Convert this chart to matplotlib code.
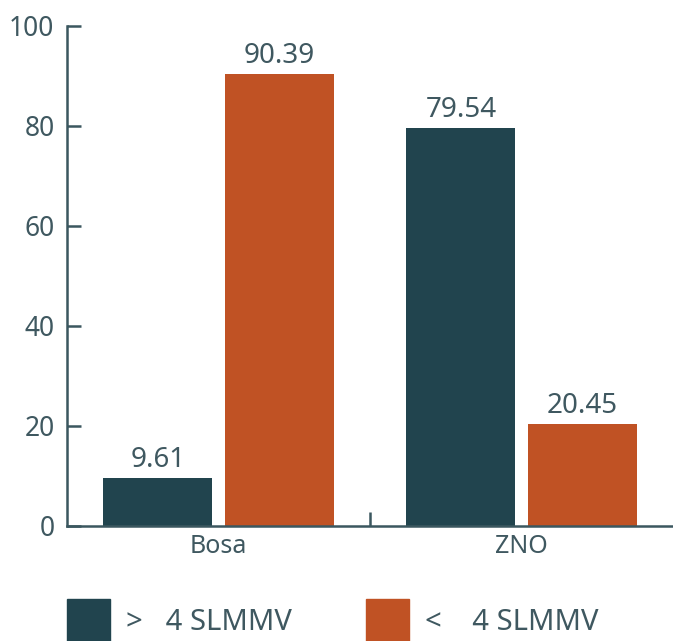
import matplotlib.pyplot as plt
from matplotlib.patches import Patch
import numpy as np

categories = ["Bosa", "ZNO"]
above_4 = [9.61, 79.54]
below_4 = [90.39, 20.45]
series_labels = [">   4 SLMMV", "<    4 SLMMV"]

dark = "#21444e"
orange = "#c05224"
axis_col = "#3b575f"
text_col = "#3f5860"

plt.rcParams["font.family"] = ["Noto Sans", "DejaVu Sans"]

fig = plt.figure(figsize=(6.73, 6.41), dpi=100)
ax = fig.add_axes([67 / 673, 115 / 641, 1 - 67 / 673, 500 / 641])

x = np.arange(len(categories))
w = 0.36
b1 = ax.bar(x - 0.2, above_4, w, color=dark)
b2 = ax.bar(x + 0.2, below_4, w, color=orange)
ax.bar_label(b1, labels=[f"{v:.2f}" for v in above_4], padding=3, fontsize=20, color=text_col)
ax.bar_label(b2, labels=[f"{v:.2f}" for v in below_4], padding=3, fontsize=20, color=text_col)

ax.set_xlim(-0.5, 1.5)
ax.set_ylim(0, 100)
ax.set_yticks([0, 20, 40, 60, 80, 100])
ax.set_xticks(x)
ax.set_xticklabels(categories)
ax.set_xticks([0.5], minor=True)

for s in ["top", "right"]:
    ax.spines[s].set_visible(False)
for s in ["left", "bottom"]:
    ax.spines[s].set_color(axis_col)
    ax.spines[s].set_linewidth(1.8)

ax.tick_params(axis="y", direction="in", length=10, width=1.8, color=axis_col,
               labelsize=19, labelcolor=text_col, pad=9)
ax.tick_params(axis="x", which="major", length=0, labelsize=18, labelcolor=text_col, pad=6)
ax.tick_params(axis="x", which="minor", direction="in", length=10, width=1.8, color=axis_col)

handles = [Patch(color=dark), Patch(color=orange)]
fig.legend(handles, series_labels, loc="upper left", bbox_to_anchor=(67 / 673, 42 / 641),
           ncol=2, frameon=False, fontsize=21, handlelength=1.47, handleheight=1.9,
           handletextpad=0.55, columnspacing=2.55, borderpad=0, borderaxespad=0,
           labelcolor=text_col)

fig.savefig("out.png", dpi=100)
